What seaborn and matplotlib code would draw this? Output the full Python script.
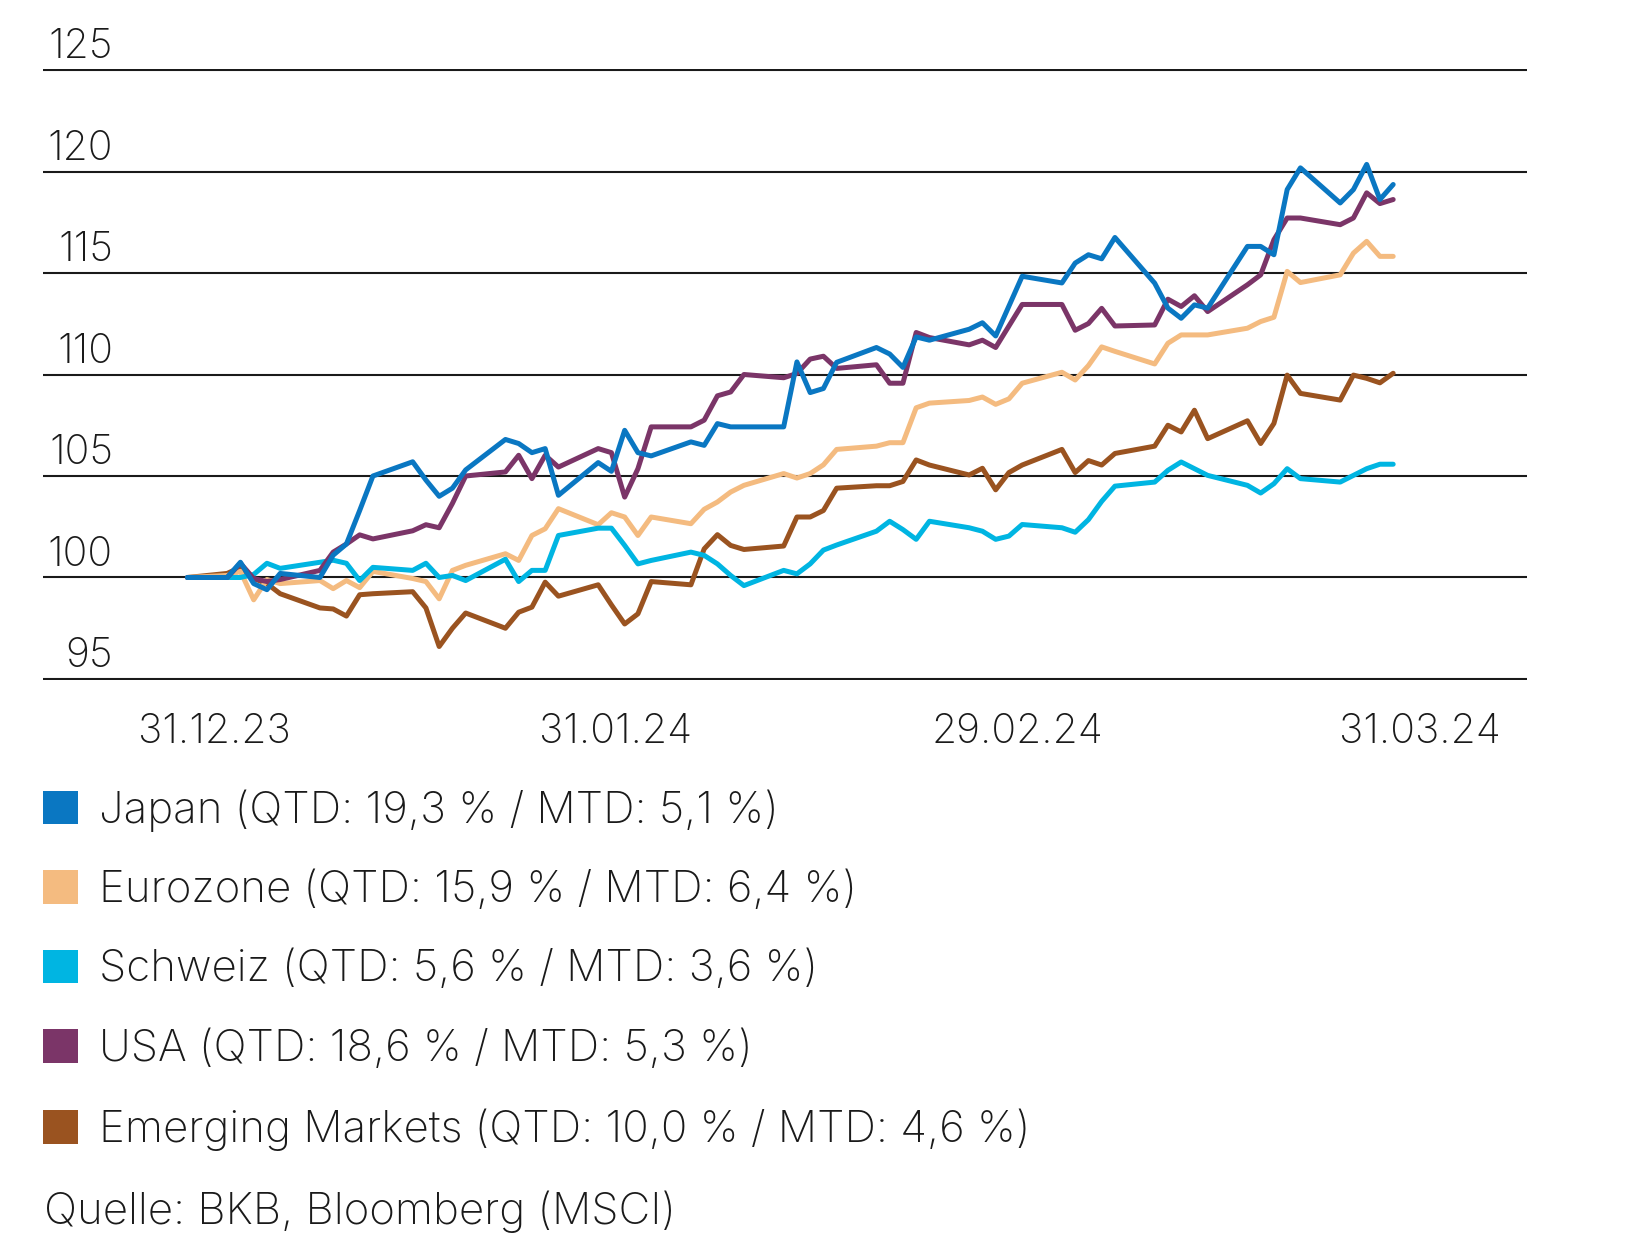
import numpy as np
import pandas as pd
import matplotlib
matplotlib.use("Agg")
import matplotlib.pyplot as plt
from matplotlib.patches import Patch
import seaborn as sns

# Handelstage 29.12.23 bis 29.03.24
dates = pd.bdate_range("2023-12-29", "2024-03-29")

japan = [100.0, 100.0, 100.75, 99.7, 99.4, 100.2, 100.0, 101.1, 101.65, 103.3, 105.0,
         105.7, 104.8, 104.0, 104.4, 105.3, 106.8, 106.6, 106.15, 106.35, 104.05,
         105.66, 105.23, 107.25, 106.15, 105.99, 106.68, 106.51, 107.58, 107.42, 107.42,
         107.42, 110.62, 109.11, 109.31, 110.6, 111.33, 111.01, 110.35, 111.85, 111.69,
         112.23, 112.55, 111.9, 113.37, 114.84, 114.51, 115.49, 115.9, 115.7, 116.75,
         114.5, 113.27, 112.77, 113.43, 113.27, 116.31, 116.31, 115.9, 119.11, 120.18,
         118.45, 119.11, 120.35, 118.62, 119.36]
eurozone = [100.0, 100.1, 100.3, 98.9, 99.9, 99.7, 99.85, 99.45, 99.85, 99.5, 100.3,
            99.95, 99.8, 98.95, 100.35, 100.6, 101.17, 100.84, 102.07, 102.4, 103.39,
            102.6, 103.19, 102.98, 102.07, 102.98, 102.65, 103.36, 103.72, 104.21, 104.54,
            105.12, 104.9, 105.12, 105.55, 106.31, 106.47, 106.64, 106.64, 108.36, 108.59,
            108.72, 108.89, 108.53, 108.8, 109.57, 110.11, 109.73, 110.44, 111.36, 111.14,
            110.52, 111.54, 111.95, 111.95, 111.95, 112.28, 112.61, 112.82, 115.08, 114.53,
            114.91, 115.98, 116.56, 115.82, 115.82]
schweiz = [100.0, 100.0, 100.0, 100.15, 100.7, 100.45, 100.75, 100.85, 100.7, 99.85, 100.5,
           100.35, 100.7, 100.0, 100.1, 99.85, 100.9, 99.8, 100.35, 100.35, 102.07,
           102.43, 102.43, 101.58, 100.67, 100.84, 101.25, 101.09, 100.67, 100.1, 99.6,
           100.35, 100.18, 100.67, 101.35, 101.6, 102.28, 102.77, 102.36, 101.88, 102.77,
           102.45, 102.28, 101.88, 102.04, 102.61, 102.45, 102.23, 102.85, 103.75, 104.5,
           104.7, 105.28, 105.69, 105.36, 105.03, 104.54, 104.16, 104.62, 105.36, 104.87,
           104.7, 105.03, 105.36, 105.58, 105.58]
usa = [100.0, 100.0, 100.7, 99.95, 99.8, 99.9, 100.35, 101.25, 101.65, 102.1, 101.9,
       102.3, 102.6, 102.45, 103.65, 105.0, 105.2, 106.02, 104.87, 106.02, 105.44,
       106.35, 106.15, 103.96, 105.36, 107.42, 107.42, 107.75, 108.95, 109.14, 110.0,
       109.84, 110.05, 110.76, 110.9, 110.3, 110.48, 109.57, 109.57, 112.07, 111.82,
       111.46, 111.69, 111.33, 112.39, 113.45, 113.45, 112.18, 112.51, 113.26, 112.39,
       112.44, 113.71, 113.35, 113.88, 113.1, 114.42, 114.91, 116.64, 117.71, 117.71,
       117.38, 117.71, 118.95, 118.42, 118.62]
em = [100.0, 100.2, 100.5, 99.95, 99.7, 99.2, 98.5, 98.45, 98.1, 99.15, 99.2,
      99.3, 98.5, 96.6, 97.5, 98.25, 97.5, 98.29, 98.54, 99.77, 99.08,
      99.64, 98.65, 97.71, 98.21, 99.8, 99.64, 101.41, 102.11, 101.58, 101.38,
      101.55, 102.98, 102.98, 103.3, 104.4, 104.52, 104.52, 104.73, 105.79, 105.54,
      105.05, 105.38, 104.32, 105.17, 105.54, 106.31, 105.17, 105.76, 105.54, 106.11,
      106.47, 107.5, 107.17, 108.24, 106.84, 107.72, 106.6, 107.59, 109.97, 109.07,
      108.74, 109.97, 109.81, 109.59, 110.06]

regions = ["Japan", "Eurozone", "Schweiz", "USA", "Emerging Markets"]
legend_labels = ["Japan (QTD: 19,3 % / MTD: 5,1 %)",
                 "Eurozone (QTD: 15,9 % / MTD: 6,4 %)",
                 "Schweiz (QTD: 5,6 % / MTD: 3,6 %)",
                 "USA (QTD: 18,6 % / MTD: 5,3 %)",
                 "Emerging Markets (QTD: 10,0 % / MTD: 4,6 %)"]
colors = ["#0a77c2", "#f4bb80", "#00b5e2", "#7b3568", "#9a5320"]
yticks = [95, 100, 105, 110, 115, 120, 125]
# Beschriftungen stehen in gleichen Abständen vom 31.12. bis 31.03.
xtick_pos = pd.date_range("2023-12-31", "2024-03-31", periods=4)
xtick_labels = ["31.12.23", "31.01.24", "29.02.24", "31.03.24"]
source = "Quelle: BKB, Bloomberg (MSCI)"

df = pd.DataFrame({
    "Datum": np.tile(dates, len(regions)),
    "Index": np.concatenate([japan, eurozone, schweiz, usa, em]),
    "Region": np.repeat(regions, len(dates)),
})
palette = dict(zip(regions, colors))

sns.set_style("white")
plt.rcParams["font.family"] = ["Inter", "DejaVu Sans"]
plt.rcParams["font.weight"] = "light"
plt.rcParams["text.color"] = "#1a1a1a"

fig = plt.figure(figsize=(16.48, 12.52), dpi=100)
ax = fig.add_axes([43 / 1648, 1 - 680 / 1252, 1484 / 1648, 611 / 1252])

# Japan oben, Emerging Markets unten
draw_order = ["Emerging Markets", "Eurozone", "Schweiz", "USA", "Japan"]
sns.lineplot(data=df, x="Datum", y="Index", hue="Region", hue_order=draw_order,
             palette=palette, linewidth=3.6, legend=False, ax=ax)

ax.set_ylim(94.95, 125.05)
ax.set_xlim(dates[0] - pd.Timedelta(days=10.9), dates[0] + pd.Timedelta(days=101.1))
ax.set_yticks(yticks)
ax.set_yticklabels([])
ax.yaxis.grid(True, color="#1a1a1a", linewidth=1.5)
ax.set_axisbelow(True)
for s in ax.spines.values():
    s.set_visible(False)
ax.tick_params(axis="both", length=0)
ax.tick_params(axis="x", pad=24, labelsize=29.5, labelcolor="#1a1a1a")
ax.set_xticks(xtick_pos)
ax.set_xticklabels(xtick_labels)
ax.set_xlabel("")
ax.set_ylabel("")

for v in yticks:
    ax.annotate(str(v), xy=(0, v), xycoords=("axes fraction", "data"),
                xytext=(50.4, 8.6), textcoords="offset points",
                ha="right", va="baseline", fontsize=29.5)

handles = [Patch(facecolor=c, edgecolor="none") for c in colors]
fig.legend(handles, legend_labels, loc="upper left",
           bbox_to_anchor=(43 / 1648, 1 - 789 / 1252), frameon=False,
           fontsize=31.5, handlelength=0.8, handleheight=0.8,
           handletextpad=0.48, labelspacing=0.88, borderpad=0, borderaxespad=0)

fig.text(44 / 1648, 1 - 1212 / 1252, source, ha="left", va="center", fontsize=31.5)

fig.savefig("out.png", dpi=100)
